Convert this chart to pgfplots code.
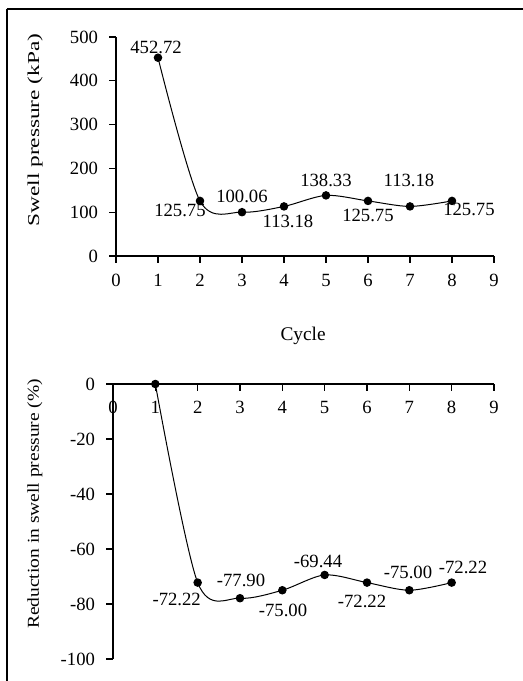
\documentclass[border=0pt]{standalone}
\usepackage{fontspec}
\setmainfont{Liberation Serif}
\usepackage{graphicx}
\usepackage{pgfplots}
\usepackage{pgfplotstable}
\pgfplotsset{compat=1.18}

\pgfplotstableread{
x y lab dx dy
1 452.72 452.72 -1.5 7.5
2 125.75 125.75 -15 -7.5
3 100.06 100.06 0 11.6
4 113.18 113.18 3 -11
5 138.33 138.33 0 11.5
6 125.75 125.75 0 -11.25
7 113.18 113.18 -0.75 19.8
8 125.75 125.75 12.75 -6.75
}\topdata

\pgfplotstableread{
x y
1 0
2 -72.22
3 -77.90
4 -75.00
5 -69.44
6 -72.22
7 -75.00
8 -72.22
}\botdata

\pgfplotstableread{
x y lab dx dy
2 -72.22 -72.22 -15.75 -13
3 -77.90 -77.90 0.75 13.5
4 -75.00 -75.00 0.5 -14.8
5 -69.44 -69.44 -5 10.5
6 -72.22 -72.22 -3.75 -14.5
7 -75.00 -75.00 -1 13.5
8 -72.22 -72.22 8.5 11.7
}\botlab

\pgfplotsset{
  myax/.style={
    scale only axis, anchor=south west, clip=false,
    xmin=0, xmax=9, xtick={0,1,...,9},
    axis line style={line width=1pt, -},
    tick style={line width=0.9pt, black},
    major tick length=5pt,
    tick align=outside,
    xticklabel style={font=\fontsize{14}{16}\selectfont},
    yticklabel style={xshift=-5pt, font=\fontsize{14}{16}\selectfont},
    /pgf/number format/assume math mode=true,
  },
  lineplot/.style={black, line width=0.75pt, smooth, mark=*, mark size=2.8pt, mark options={solid, fill=black}},
  labplot/.style={draw=none, mark=none, nodes near coords, point meta=explicit symbolic,
    visualization depends on={\thisrow{dx}\as\dx},
    visualization depends on={\thisrow{dy}\as\dy},
    every node near coord/.append style={anchor=center, xshift=\dx pt, yshift=\dy pt, text=black, font=\fontsize{14}{16}\selectfont, inner sep=0pt}},
}

\begin{document}
\begin{tikzpicture}
\useasboundingbox (0pt,0pt) rectangle (392.25pt,510.75pt);
\draw[line width=0.8pt] (5.25pt,0pt) -- (5.25pt,504pt);
\draw[line width=1.5pt] (4.95pt,504pt) -- (392.25pt,504pt);

\begin{axis}[myax,
  at={(87pt,318.75pt)}, width=283.5pt, height=164.25pt,
  axis lines*=left,
  xticklabel style={yshift=-5pt},
  ymin=0, ymax=500, ytick={0,100,...,500},
  xlabel={Cycle},
  xlabel style={at={(axis description cs:0.495,-0.365)}, anchor=center, font=\fontsize{14.5}{16}\selectfont},
  ylabel={\scalebox{1.4}[1]{Swell pressure (kPa)}},
  ylabel style={at={(axis description cs:-0.214,0.575)}, anchor=center, font=\fontsize{12.5}{15}\selectfont},
]
\addplot[lineplot] table[x=x, y=y] {\topdata};
\addplot[labplot] table[x=x, y=y, meta=lab] {\topdata};
\end{axis}

\begin{axis}[myax,
  at={(84.75pt,16.5pt)}, width=285.75pt, height=206.25pt,
  axis x line*=top, axis y line*=left,
  x tick style={yshift=-5pt},
  xticklabel style={anchor=north, yshift=-14.5pt},
  ymin=-100, ymax=0, ytick={-100,-80,-60,-40,-20,0},
  yticklabels={-100,-80,-60,-40,-20,0},
  ylabel={\scalebox{1.17}[1]{Reduction in swell pressure (\%)}},
  ylabel style={at={(axis description cs:-0.205,0.564)}, anchor=center, font=\fontsize{12.5}{15}\selectfont},
]
\addplot[lineplot] table[x=x, y=y] {\botdata};
\addplot[labplot] table[x=x, y=y, meta=lab] {\botlab};
\end{axis}
\end{tikzpicture}
\end{document}
